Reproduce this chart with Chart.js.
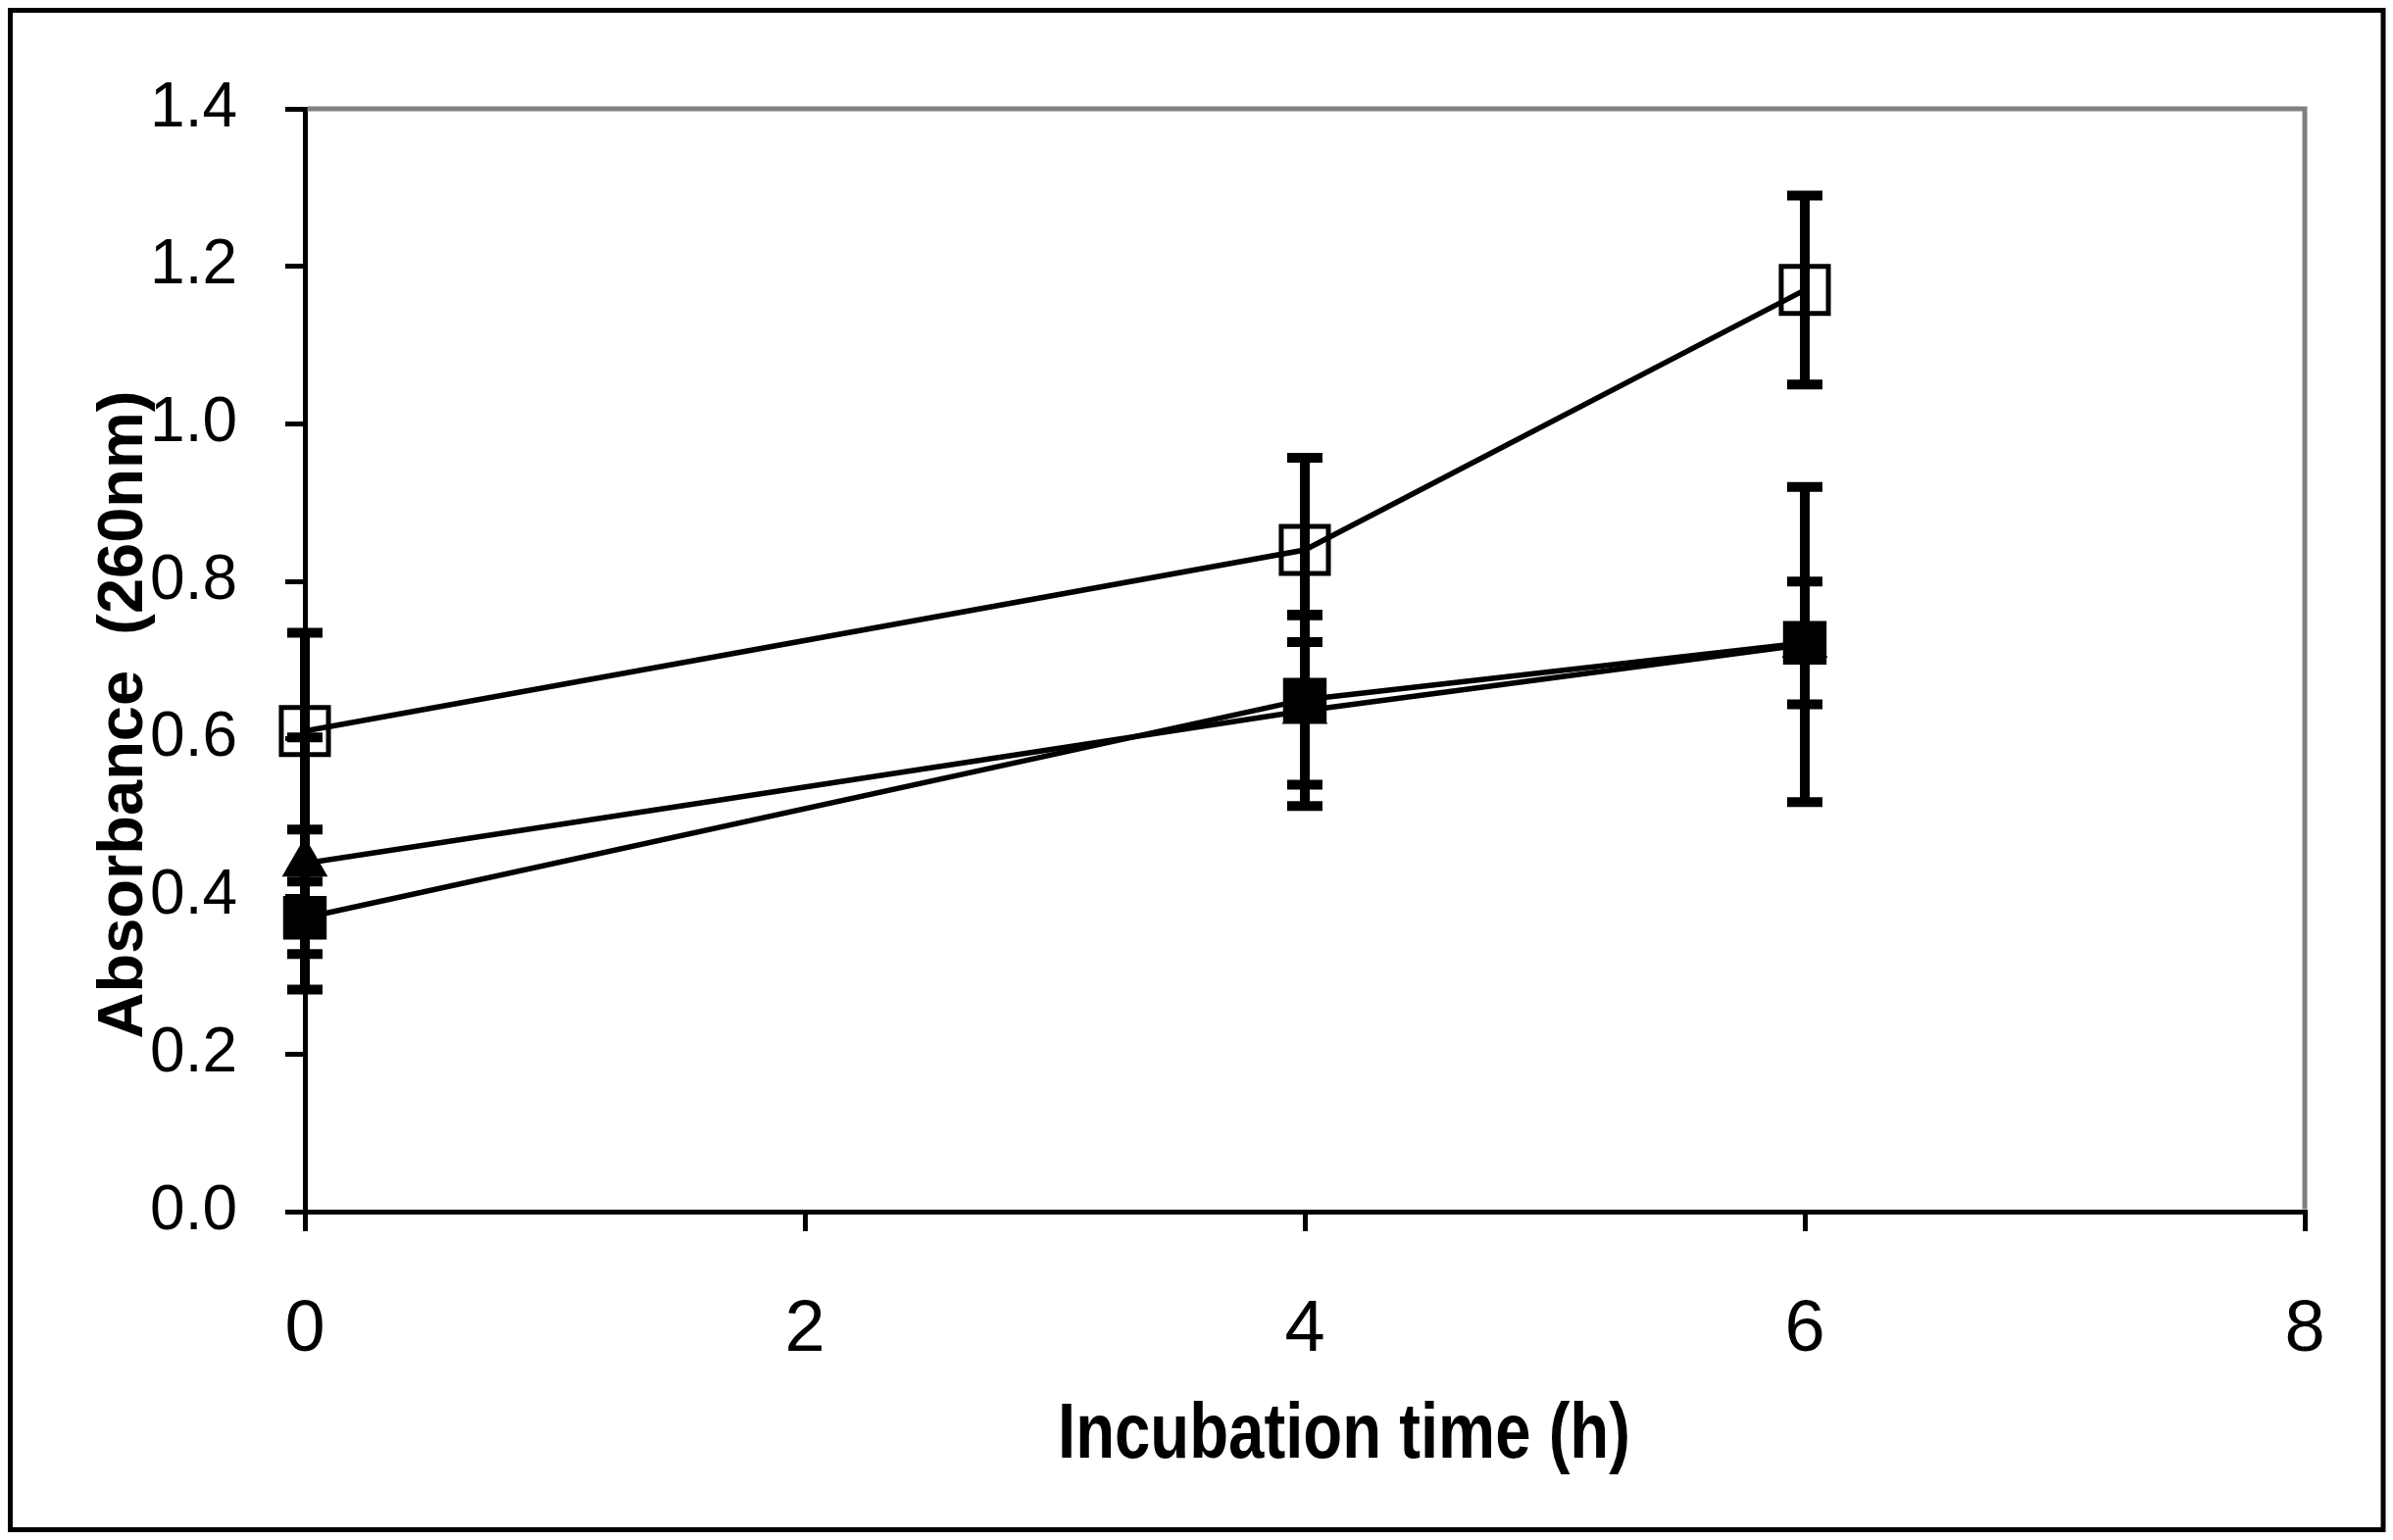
<!DOCTYPE html>
<html>
<head>
<meta charset="utf-8">
<script src="https://cdn.jsdelivr.net/npm/chart.js@4.4.1/dist/chart.umd.min.js"></script>
<style>
  html, body { margin: 0; padding: 0; background: #fff; }
  #wrap { width: 2441px; height: 1571px; }
</style>
</head>
<body>
<div id="wrap"><canvas id="chart" width="2441" height="1571"></canvas></div>
<script>
// values (mean and +/- error)
const times = [0, 4, 6];
const openSquare = [0.61, 0.84, 1.17];
const openSquareErr = [0.125, 0.117, 0.12];
const filledSquare = [0.373, 0.65, 0.722];
const filledSquareErr = [0.046, 0.108, 0.078];
const triangle = [0.442, 0.636, 0.72];
const triangleErr = [0.16, 0.121, 0.2];

const xTicks = [0, 2, 4, 6, 8];
const yTicks = [0, 0.2, 0.4, 0.6, 0.8, 1.0, 1.2, 1.4];
const xTitle = 'Incubation time (h)';
const yTitle = 'Absorbance  (260nm)';

const points = vals => times.map((t, i) => ({ x: t, y: vals[i] }));

// white page + outer frame
const page = {
  id: 'page',
  beforeDraw(chart) {
    const ctx = chart.ctx;
    ctx.save();
    ctx.fillStyle = '#fff';
    ctx.fillRect(0, 0, chart.width, chart.height);
    ctx.restore();
  },
  afterDraw(chart) {
    const ctx = chart.ctx;
    ctx.save();
    ctx.strokeStyle = '#000';
    ctx.lineWidth = 5;
    ctx.strokeRect(10.5, 10.5, 2420.5, 1550);
    ctx.restore();
  }
};

// grey top and right edges of the plot area
const plotFrame = {
  id: 'plotFrame',
  beforeDatasetsDraw(chart) {
    const { ctx, chartArea: a } = chart;
    ctx.save();
    ctx.strokeStyle = '#808080';
    ctx.lineWidth = 5;
    ctx.beginPath();
    ctx.moveTo(a.left + 2.5, a.top);
    ctx.lineTo(a.right, a.top);
    ctx.lineTo(a.right, a.bottom - 2.5);
    ctx.stroke();
    ctx.restore();
  }
};

const errorBars = {
  id: 'errorBars',
  afterDatasetsDraw(chart) {
    const { ctx, scales: { x, y } } = chart;
    ctx.save();
    ctx.strokeStyle = '#000';
    ctx.lineWidth = 10;
    ctx.lineCap = 'butt';
    chart.data.datasets.forEach(ds => {
      ds.data.forEach((p, i) => {
        const px = x.getPixelForValue(p.x);
        const top = y.getPixelForValue(p.y + ds.errors[i]);
        const bot = y.getPixelForValue(p.y - ds.errors[i]);
        ctx.beginPath();
        ctx.moveTo(px, top);
        ctx.lineTo(px, bot);
        ctx.moveTo(px - 18, top);
        ctx.lineTo(px + 18, top);
        ctx.moveTo(px - 18, bot);
        ctx.lineTo(px + 18, bot);
        ctx.stroke();
      });
    });
    ctx.restore();
  }
};

// the x title is a condensed bold face in the original, so squeeze it sideways
const axisTitles = {
  id: 'axisTitles',
  afterDraw(chart) {
    const ctx = chart.ctx;
    ctx.save();
    ctx.fillStyle = '#000';
    ctx.textBaseline = 'alphabetic';
    ctx.textAlign = 'center';
    ctx.font = 'bold 80px "Liberation Sans", Arial, sans-serif';
    const w = ctx.measureText(xTitle).width;
    ctx.save();
    ctx.translate(1371, 1487);
    ctx.scale(584 / w, 1);
    ctx.fillText(xTitle, 0, 0);
    ctx.restore();
    ctx.translate(145, 729);
    ctx.rotate(-Math.PI / 2);
    ctx.font = 'bold 65px "Liberation Sans", Arial, sans-serif';
    ctx.fillText(yTitle, 0, 0);
    ctx.restore();
  }
};

new Chart(document.getElementById('chart'), {
  type: 'line',
  data: {
    datasets: [
      {
        label: 'open square',
        data: points(openSquare),
        errors: openSquareErr,
        borderColor: '#000',
        borderWidth: 5.5,
        pointStyle: 'rect',
        pointRadius: 34,
        pointBorderWidth: 5,
        pointBorderColor: '#000',
        pointBackgroundColor: 'rgba(0,0,0,0)',
        clip: false
      },
      {
        label: 'filled square',
        data: points(filledSquare),
        errors: filledSquareErr,
        borderColor: '#000',
        borderWidth: 5.5,
        pointStyle: 'rect',
        pointRadius: 30,
        pointBorderWidth: 2,
        pointBorderColor: '#000',
        pointBackgroundColor: '#000',
        clip: false
      },
      {
        label: 'triangle',
        data: points(triangle),
        errors: triangleErr,
        borderColor: '#000',
        borderWidth: 5.5,
        pointStyle: 'triangle',
        pointRadius: 25,
        pointBorderWidth: 2,
        pointBorderColor: '#000',
        pointBackgroundColor: '#000',
        clip: false
      }
    ]
  },
  options: {
    responsive: false,
    animation: false,
    devicePixelRatio: 1,
    layout: { padding: { top: 111, right: 90, left: 0, bottom: 0 } },
    plugins: { legend: { display: false }, tooltip: { enabled: false } },
    scales: {
      x: {
        type: 'linear',
        position: 'bottom',
        min: 0,
        max: 8,
        afterBuildTicks: s => { s.ticks = xTicks.map(v => ({ value: v })); },
        afterFit: s => { s.height = 335; },
        grid: { drawOnChartArea: false, tickLength: 20, lineWidth: 5, color: '#000' },
        border: { display: true, color: '#000', width: 5 },
        ticks: {
          color: '#000',
          padding: 57,
          maxRotation: 0,
          autoSkip: false,
          font: { family: '"Liberation Sans", Arial, sans-serif', size: 74 }
        }
      },
      y: {
        min: 0,
        max: 1.4,
        afterBuildTicks: s => { s.ticks = yTicks.map(v => ({ value: v })); },
        afterFit: s => { s.width = 311; },
        grid: { drawOnChartArea: false, tickLength: 20, lineWidth: 5, color: '#000' },
        border: { display: true, color: '#000', width: 5 },
        ticks: {
          color: '#000',
          padding: 49,
          autoSkip: false,
          callback: v => v.toFixed(1),
          font: { family: '"Liberation Sans", Arial, sans-serif', size: 64 }
        }
      }
    }
  },
  plugins: [page, plotFrame, errorBars, axisTitles]
});
</script>
</body>
</html>
